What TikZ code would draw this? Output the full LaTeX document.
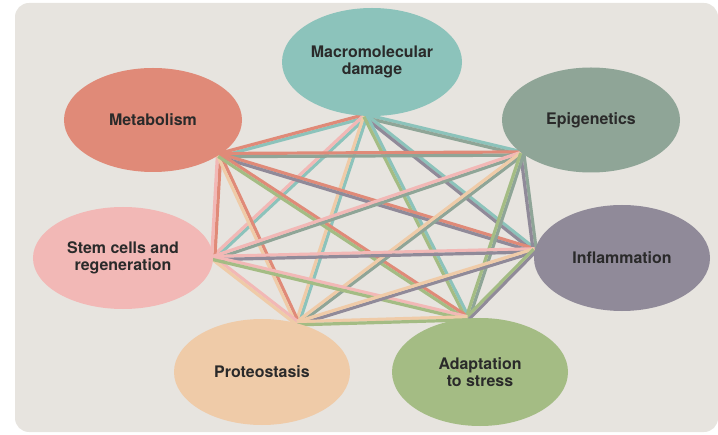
\documentclass[tikz,border=0pt]{standalone}
\usepackage{fontspec}
\setsansfont{TeX Gyre Heros}
\usetikzlibrary{shapes.geometric,calc,backgrounds}

\definecolor{cmac}{HTML}{8CC3BB}
\definecolor{cmet}{HTML}{E08A78}
\definecolor{cepi}{HTML}{8FA597}
\definecolor{cinf}{HTML}{908A99}
\definecolor{cste}{HTML}{F2B8B6}
\definecolor{cpro}{HTML}{EFCBA8}
\definecolor{cada}{HTML}{A4BC84}
\definecolor{paper}{HTML}{E7E4DF}
\definecolor{ink}{HTML}{2A2A2A}

\tikzset{
  bubble/.style={ellipse, inner sep=0pt, align=center, text=ink,
    font=\sffamily\bfseries\fontsize{16}{17}\selectfont},
  strand/.style={line width=3.2bp}
}

\begin{document}
\begin{tikzpicture}[x=1bp, y=-1bp]
  \useasboundingbox (0,0) rectangle (718,435);

  % The hallmarks
  \node[bubble, fill=cmac, minimum width=180bp, minimum height=108bp] (mac) at (372,62) {Macromolecular\\damage};
  \node[bubble, fill=cmet, minimum width=178bp, minimum height=104bp] (met) at (153,120) {Metabolism};
  \node[bubble, fill=cepi, minimum width=178bp, minimum height=105bp] (epi) at (591,120) {Epigenetics};
  \node[bubble, fill=cste, minimum width=180bp, minimum height=102bp] (ste) at (123,258) {Stem cells and\\regeneration};
  \node[bubble, fill=cinf, minimum width=176bp, minimum height=106bp] (inf) at (622,258) {Inflammation};
  \node[bubble, fill=cpro, minimum width=176bp, minimum height=106bp] (pro) at (262,372) {Proteostasis};
  \node[bubble, fill=cada, minimum width=176bp, minimum height=108bp] (ada) at (480,372) {Adaptation\\to stress};

  % Where the links meet each bubble
  \coordinate (hmac) at (mac.-97);
  \coordinate (hmet) at (met.-28);
  \coordinate (hepi) at (epi.-154);
  \coordinate (hste) at (ste.0);
  \coordinate (hinf) at (inf.175);
  \coordinate (hpro) at (pro.54.5);
  \coordinate (hada) at (ada.103.5);

  \begin{scope}[on background layer]
    % The backdrop
    \fill[paper, rounded corners=14bp] (15,3) rectangle (718,432);

    % The links, one strand in the colour of each end
    \foreach \a/\b in {mac/met, mac/epi, mac/ste, mac/inf, mac/pro, mac/ada,
                       met/epi, met/ste, met/inf, met/pro, met/ada,
                       epi/ste, epi/inf, epi/pro, epi/ada,
                       ste/inf, ste/pro, ste/ada,
                       inf/pro, inf/ada,
                       pro/ada} {
      \draw[strand, draw=c\a] ($(h\a)!1.6bp!90:(h\b)$) -- ($(h\b)!1.6bp!-90:(h\a)$);
      \draw[strand, draw=c\b] ($(h\a)!1.6bp!-90:(h\b)$) -- ($(h\b)!1.6bp!90:(h\a)$);
    }
  \end{scope}
\end{tikzpicture}
\end{document}
